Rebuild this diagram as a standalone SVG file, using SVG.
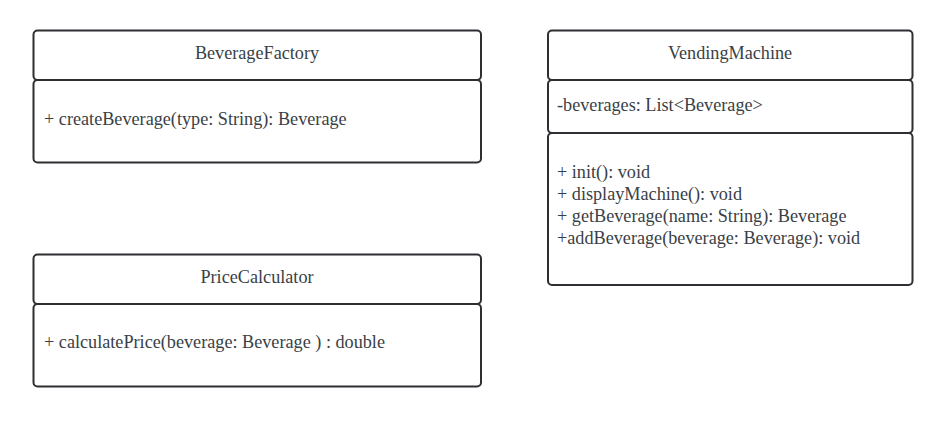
<svg xmlns="http://www.w3.org/2000/svg" width="948" height="421" viewBox="0 0 948 421">
<style>
rect{fill:#fff;stroke:#2d2f33;stroke-width:2}
text{font-family:"Liberation Serif",serif;font-size:18.2px;fill:#3a3f47}
.t{text-anchor:middle}
</style>
<rect x="0" y="0" width="948" height="421" style="stroke:none"/>
<g id="BeverageFactory">
<rect x="33.5" y="30.5" width="447.5" height="49.5" rx="4"/>
<rect x="33.5" y="80" width="447.5" height="82.5" rx="4"/>
<text class="t" x="257" y="59">BeverageFactory</text>
<text x="44" y="125">+ createBeverage(type: String): Beverage</text>
</g>
<g id="VendingMachine">
<rect x="548" y="30.5" width="364.5" height="49.5" rx="4"/>
<rect x="548" y="80" width="364.5" height="53" rx="4"/>
<rect x="548" y="133" width="364.5" height="152" rx="4"/>
<text class="t" x="730" y="59">VendingMachine</text>
<text x="557" y="111">-beverages: List&lt;Beverage&gt;</text>
<text x="557" y="178">+ init(): void</text>
<text x="557" y="200">+ displayMachine(): void</text>
<text x="557" y="222">+ getBeverage(name: String): Beverage</text>
<text x="557" y="244">+addBeverage(beverage: Beverage): void</text>
</g>
<g id="PriceCalculator">
<rect x="33.5" y="254.5" width="447.5" height="49.5" rx="4"/>
<rect x="33.5" y="304" width="447.5" height="82.5" rx="4"/>
<text class="t" x="257" y="283">PriceCalculator</text>
<text x="44" y="348">+ calculatePrice(beverage: Beverage ) : double</text>
</g>
<g id="connectors"/>
</svg>
